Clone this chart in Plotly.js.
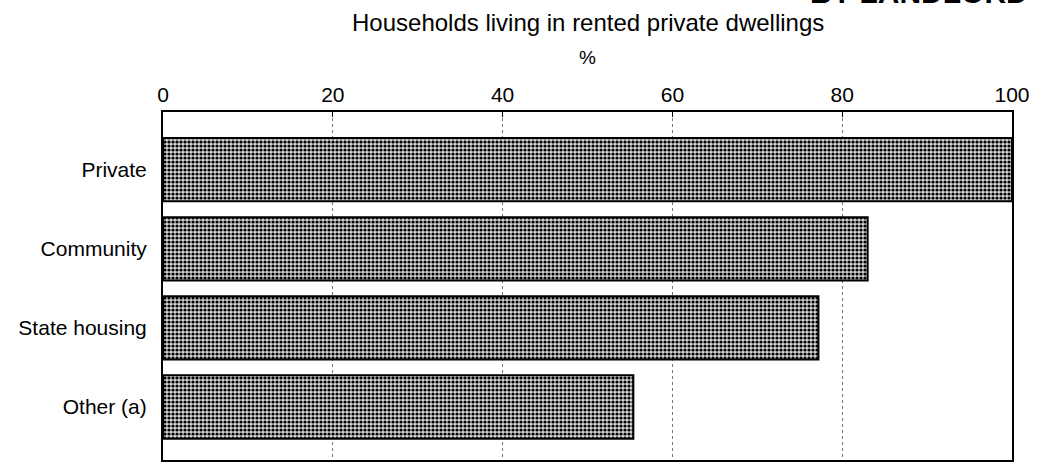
<!DOCTYPE html>
<html>
<head>
<meta charset="utf-8">
<script src="https://cdn.plot.ly/plotly-3.0.1.min.js"></script>
<style>
  html, body { margin: 0; padding: 0; background: #fff; }
  #chart { width: 1037px; height: 466px; }
</style>
</head>
<body>
<div id="chart"></div>
<script>
const categories = ['Private', 'Community', 'State housing', 'Other (a)'];
const percentValues = [100, 83, 77.2, 55.4];
const xTickValues = [0, 20, 40, 60, 80, 100];
const xTickLabels = ['0', '20', '40', '60', '80', '100'];
const chartTitle = 'Households living in rented private dwellings';
const unitLabel = '%';
const clippedHeading = 'BY LANDLORD';

const FONT = '"Liberation Sans", Arial, Helvetica, sans-serif';

const trace = {
  type: 'bar',
  orientation: 'h',
  y: categories,
  x: percentValues,
  width: 0.8,
  marker: {
    color: '#9a9a9a',
    pattern: { shape: '.', fgcolor: '#000000', bgcolor: '#d2d2d2', size: 4, solidity: 0.5 },
    line: { color: '#000000', width: 2 }
  },
  hoverinfo: 'x+y'
};

const layout = {
  width: 1037,
  height: 466,
  margin: { l: 163, r: 25, t: 112, b: 6 },
  paper_bgcolor: '#ffffff',
  plot_bgcolor: '#ffffff',
  showlegend: false,
  font: { family: FONT, color: '#000000', size: 21 },
  xaxis: {
    side: 'top',
    range: [0, 100],
    tickvals: xTickValues,
    ticktext: xTickLabels,
    ticks: 'inside',
    ticklen: 5,
    tickcolor: '#000',
    tickfont: { family: FONT, size: 21, color: '#000' },
    showgrid: true,
    gridcolor: '#777777',
    griddash: 'dot',
    gridwidth: 1,
    zeroline: false,
    showline: true,
    linecolor: '#000',
    linewidth: 2,
    mirror: true,
    fixedrange: true
  },
  yaxis: {
    type: 'category',
    categoryorder: 'array',
    categoryarray: categories,
    range: [3.67, -0.73],
    ticks: '',
    ticklabelstandoff: 10,
    tickfont: { family: FONT, size: 21, color: '#000' },
    showgrid: false,
    zeroline: false,
    showline: true,
    linecolor: '#000',
    linewidth: 2,
    mirror: true,
    fixedrange: true
  },
  annotations: [
    {
      text: chartTitle,
      xref: 'paper', yref: 'paper',
      x: 0.5, y: 1.258,
      xanchor: 'center', yanchor: 'middle',
      showarrow: false,
      font: { family: FONT, size: 24, color: '#000' }
    },
    {
      text: unitLabel,
      xref: 'paper', yref: 'paper',
      x: 0.5, y: 1.158,
      xanchor: 'center', yanchor: 'middle',
      showarrow: false,
      font: { family: FONT, size: 19, color: '#000' }
    },
    {
      text: '<b>' + clippedHeading + '</b>',
      xref: 'paper', yref: 'paper',
      x: 1.021, y: 1.29,
      xanchor: 'right', yanchor: 'bottom',
      showarrow: false,
      font: { family: FONT, size: 30, color: '#000' }
    }
  ]
};

Plotly.newPlot('chart', [trace], layout, { displayModeBar: false, staticPlot: true });
</script>
</body>
</html>
